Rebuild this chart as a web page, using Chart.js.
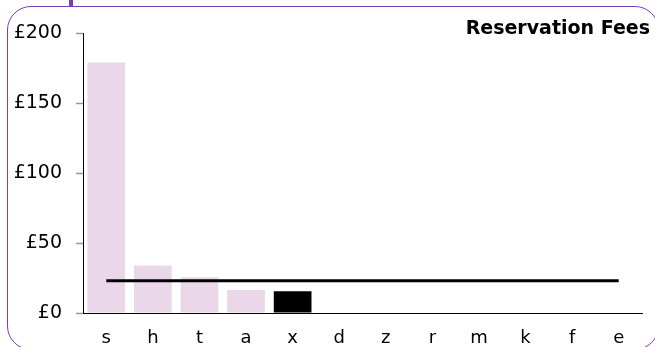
<!DOCTYPE html>
<html>
<head>
<meta charset="utf-8">
<script src="https://cdn.jsdelivr.net/npm/chart.js@4"></script>
<style>
  html, body { margin: 0; padding: 0; background: #fff; overflow: hidden; }
  #wrap { position: relative; width: 655px; height: 347px; }
  #frame { position: absolute; left: 7px; top: 6px; width: 652px; height: 344px;
           border: 1.5px solid #7a3db5; border-radius: 24px; box-sizing: border-box; }
  #tab { position: absolute; left: 69px; top: 0; width: 4px; height: 7px; background: #7a3db5; }
  canvas { position: absolute; left: 0; top: 0; }
</style>
</head>
<body>
<div id="wrap">
  <div id="frame"></div>
  <div id="tab"></div>
  <canvas id="c" width="655" height="347"></canvas>
</div>
<script>
const categories = ['s', 'h', 't', 'a', 'x', 'd', 'z', 'r', 'm', 'k', 'f', 'e'];
const fees = [179, 34, 25.5, 16.5, 15.5, 0, 0, 0, 0, 0, 0, 0];
const average = [23, 23, 23, 23, 23, 23, 23, 23, 23, 23, 23, 23];
const yTicks = [0, 50, 100, 150, 200];
const chartTitle = 'Reservation Fees';
const highlight = 'x';

const barColors = categories.map(c => c === highlight ? '#000000' : '#ead8ea');

const titlePlugin = {
  id: 'cornerTitle',
  afterDraw(chart) {
    const ctx = chart.ctx;
    ctx.save();
    ctx.font = 'bold 19px "DejaVu Sans"';
    ctx.fillStyle = '#000';
    ctx.textAlign = 'right';
    ctx.textBaseline = 'alphabetic';
    ctx.fillText(chartTitle, 650, 34);
    ctx.restore();
  }
};

new Chart(document.getElementById('c'), {
  data: {
    labels: categories,
    datasets: [
      {
        type: 'line',
        data: average,
        borderColor: '#000',
        borderWidth: 3,
        pointRadius: 0,
        fill: false,
        order: 0
      },
      {
        type: 'bar',
        data: fees,
        backgroundColor: barColors,
        categoryPercentage: 1,
        barPercentage: 0.81,
        order: 1
      }
    ]
  },
  options: {
    responsive: false,
    animation: false,
    layout: { padding: { left: 0, right: 13, top: 33, bottom: 0 } },
    plugins: { legend: { display: false }, tooltip: { enabled: false }, title: { display: false } },
    scales: {
      x: {
        afterFit(scale) { scale.height = 34; },
        grid: { display: false },
        border: { display: true, color: '#000', width: 1 },
        ticks: { color: '#000', padding: 8, font: { family: 'DejaVu Sans', size: 18, lineHeight: 1.0 } }
      },
      y: {
        min: 0, max: 200,
        afterFit(scale) { scale.width = 83; },
        afterBuildTicks(axis) { axis.ticks = yTicks.map(v => ({ value: v })); },
        grid: { display: true, drawOnChartArea: false, tickLength: 7, tickColor: '#999', tickWidth: 1.5 },
        border: { display: true, color: '#000', width: 1 },
        ticks: {
          color: '#000', padding: 14,
          font: { family: 'DejaVu Sans', size: 19 },
          callback: v => '£' + v
        }
      }
    }
  },
  plugins: [titlePlugin]
});
</script>
</body>
</html>
